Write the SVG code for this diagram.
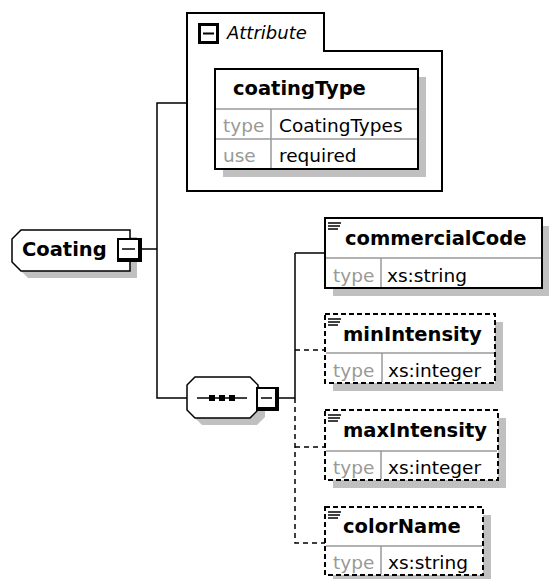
<svg xmlns="http://www.w3.org/2000/svg" width="549" height="579" viewBox="0 0 549 579">
<style>
.box{fill:#fff;stroke:#000;stroke-width:2}
.dbox{fill:#fff;stroke:#000;stroke-width:2;stroke-dasharray:5 3}
.shadow{fill:#c0c0c0}
.sep{stroke:#999;stroke-width:1.5}
.conn{fill:none;stroke:#000;stroke-width:1.5}
.dconn{fill:none;stroke:#000;stroke-width:1.5;stroke-dasharray:5 4}
.name{font-family:"DejaVu Sans","Liberation Sans",sans-serif;font-weight:bold;font-size:19.5px;fill:#000}
.lbl{font-family:"DejaVu Sans","Liberation Sans",sans-serif;font-size:18.5px;fill:#999}
.val{font-family:"DejaVu Sans","Liberation Sans",sans-serif;font-size:18.5px;fill:#000}
.ital{font-family:"DejaVu Sans","Liberation Sans",sans-serif;font-style:italic;font-size:18px;fill:#000}
.icl{stroke:#000;stroke-width:1.5}
</style>
<defs>
<g id="elIcon">
<line x1="0" y1="0" x2="13" y2="0" class="icl"/>
<line x1="0" y1="3" x2="12" y2="3" class="icl"/>
<line x1="0" y1="6" x2="10" y2="6" class="icl"/>
</g>
</defs>

<g id="connectors">
<path class="conn" d="M187,103 H157 V398 H187"/>
<path class="conn" d="M142,249 H157"/>
<path class="conn" d="M279,398 H295 M295,253 V398 M295,253 H325"/>
<path class="dconn" d="M295,398 V543 H325 M295,350 H325 M295,447 H325"/>
</g>

<g id="attributes">
<path d="M187,13 H324 V51 H442 V191 H187 Z" fill="#fff" stroke="#000" stroke-width="2"/>
<rect x="198" y="23" width="21" height="21" fill="#000"/>
<rect x="201" y="26" width="15" height="15" fill="#fff"/>
<line x1="203" y1="33.5" x2="214" y2="33.5" stroke="#000" stroke-width="2"/>
<text x="227" y="39" class="ital">Attribute</text>
</g>

<g id="coatingType">
<rect x="223" y="77" width="203" height="100" class="shadow"/>
<rect x="215" y="69" width="203" height="100" class="box"/>
<line x1="216" y1="109" x2="417" y2="109" class="sep"/>
<line x1="216" y1="139" x2="417" y2="139" class="sep"/>
<line x1="271" y1="109" x2="271" y2="168" class="sep"/>
<text x="233" y="95" class="name">coatingType</text>
<text x="223" y="132" class="lbl">type</text>
<text x="279" y="132" class="val">CoatingTypes</text>
<text x="223" y="162" class="lbl">use</text>
<text x="279" y="162" class="val">required</text>
</g>

<g id="Coating">
<polygon points="28,237 137,237 137,278 28,278 19,269 19,246" class="shadow"/>
<polygon points="21,230 130,230 130,271 21,271 12,262 12,239" fill="#fff" stroke="#000" stroke-width="1.5"/>
<text x="22" y="256" class="name">Coating</text>
<rect x="117" y="238" width="25" height="24" fill="#000"/>
<rect x="119" y="240" width="19" height="18" fill="#fff"/>
<line x1="122" y1="249" x2="135" y2="249" stroke="#000" stroke-width="1.5"/>
</g>

<g id="sequence">
<polygon points="202,384 257,384 265,392 265,417 257,425 202,425 194,417 194,392" class="shadow"/>
<polygon points="195,377 250,377 258,385 258,410 250,418 195,418 187,410 187,385" fill="#fff" stroke="#000" stroke-width="1.5"/>
<line x1="197" y1="398" x2="247" y2="398" stroke="#000" stroke-width="1.5"/>
<rect x="209" y="395" width="6" height="6" fill="#000"/>
<rect x="219" y="395" width="6" height="6" fill="#000"/>
<rect x="229" y="395" width="6" height="6" fill="#000"/>
<rect x="256" y="387" width="23" height="24" fill="#000"/>
<rect x="258" y="389" width="17" height="18" fill="#fff"/>
<line x1="261" y1="398" x2="272" y2="398" stroke="#000" stroke-width="1.5"/>
</g>

<g id="commercialCode">
<rect x="333" y="226" width="217" height="70" class="shadow"/>
<rect x="325" y="218" width="217" height="70" class="box"/>
<line x1="326" y1="258" x2="541" y2="258" class="sep"/>
<line x1="381" y1="258" x2="381" y2="287" class="sep"/>
<use href="#elIcon" x="328" y="223"/>
<text x="345" y="245" class="name">commercialCode</text>
<text x="333" y="282" class="lbl">type</text>
<text x="387" y="282" class="val">xs:string</text>
</g>

<g id="minIntensity">
<rect x="333" y="322" width="170" height="69" class="shadow"/>
<rect x="325" y="314" width="170" height="69" class="dbox"/>
<line x1="326" y1="353" x2="494" y2="353" class="sep"/>
<line x1="382" y1="353" x2="382" y2="382" class="sep"/>
<use href="#elIcon" x="328" y="319"/>
<text x="343" y="341" class="name">minIntensity</text>
<text x="333" y="377" class="lbl">type</text>
<text x="388" y="377" class="val">xs:integer</text>
</g>

<g id="maxIntensity">
<rect x="333" y="418" width="173" height="70" class="shadow"/>
<rect x="325" y="410" width="173" height="70" class="dbox"/>
<line x1="326" y1="451" x2="497" y2="451" class="sep"/>
<line x1="381" y1="451" x2="381" y2="479" class="sep"/>
<use href="#elIcon" x="328" y="415"/>
<text x="343" y="437" class="name">maxIntensity</text>
<text x="333" y="474" class="lbl">type</text>
<text x="388" y="474" class="val">xs:integer</text>
</g>

<g id="colorName">
<rect x="333" y="515" width="158" height="68" class="shadow"/>
<rect x="325" y="507" width="158" height="68" class="dbox"/>
<line x1="326" y1="546" x2="482" y2="546" class="sep"/>
<line x1="381" y1="546" x2="381" y2="574" class="sep"/>
<use href="#elIcon" x="328" y="512"/>
<text x="343" y="533" class="name">colorName</text>
<text x="333" y="569" class="lbl">type</text>
<text x="388" y="569" class="val">xs:string</text>
</g>
</svg>
